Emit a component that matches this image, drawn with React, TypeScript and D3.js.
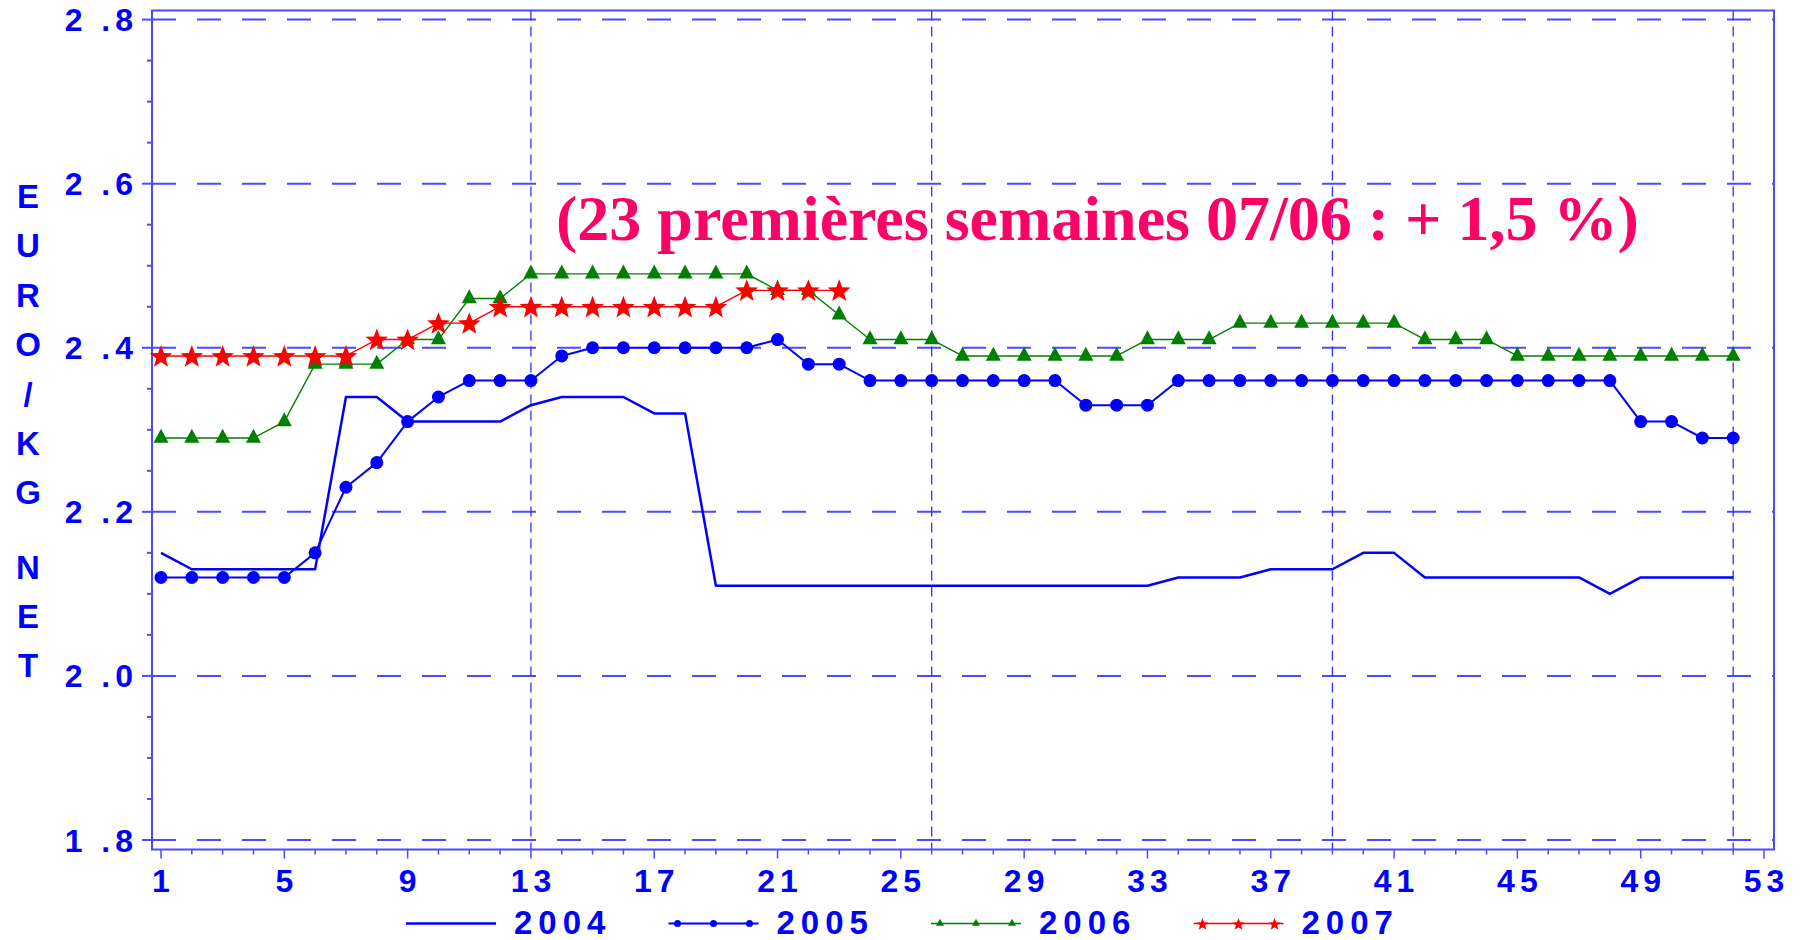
import * as d3 from "d3";
import { useRef, useEffect } from "react";

// weekly price, euro / kg net, week 1 .. 52
const prices2004 = [
  2.15, 2.13, 2.13, 2.13, 2.13, 2.13, 2.34, 2.34, 2.31, 2.31, 2.31, 2.31, 2.33,
  2.34, 2.34, 2.34, 2.32, 2.32, 2.11, 2.11, 2.11, 2.11, 2.11, 2.11, 2.11, 2.11,
  2.11, 2.11, 2.11, 2.11, 2.11, 2.11, 2.11, 2.12, 2.12, 2.12, 2.13, 2.13, 2.13,
  2.15, 2.15, 2.12, 2.12, 2.12, 2.12, 2.12, 2.12, 2.10, 2.12, 2.12, 2.12, 2.12,
];
const prices2005 = [
  2.12, 2.12, 2.12, 2.12, 2.12, 2.15, 2.23, 2.26, 2.31, 2.34, 2.36, 2.36, 2.36,
  2.39, 2.40, 2.40, 2.40, 2.40, 2.40, 2.40, 2.41, 2.38, 2.38, 2.36, 2.36, 2.36,
  2.36, 2.36, 2.36, 2.36, 2.33, 2.33, 2.33, 2.36, 2.36, 2.36, 2.36, 2.36, 2.36,
  2.36, 2.36, 2.36, 2.36, 2.36, 2.36, 2.36, 2.36, 2.36, 2.31, 2.31, 2.29, 2.29,
];
const prices2006 = [
  2.29, 2.29, 2.29, 2.29, 2.31, 2.38, 2.38, 2.38, 2.41, 2.41, 2.46, 2.46, 2.49,
  2.49, 2.49, 2.49, 2.49, 2.49, 2.49, 2.49, 2.47, 2.47, 2.44, 2.41, 2.41, 2.41,
  2.39, 2.39, 2.39, 2.39, 2.39, 2.39, 2.41, 2.41, 2.41, 2.43, 2.43, 2.43, 2.43,
  2.43, 2.43, 2.41, 2.41, 2.41, 2.39, 2.39, 2.39, 2.39, 2.39, 2.39, 2.39, 2.39,
];
// only the first 23 weeks of 2007 are known
const prices2007 = [
  2.39, 2.39, 2.39, 2.39, 2.39, 2.39, 2.39, 2.41, 2.41, 2.43, 2.43, 2.45, 2.45,
  2.45, 2.45, 2.45, 2.45, 2.45, 2.45, 2.47, 2.47, 2.47, 2.47,
];

// axis ticks
const yTickValues = [1.8, 2.0, 2.2, 2.4, 2.6, 2.8];
const xTickValues = [1, 5, 9, 13, 17, 21, 25, 29, 33, 37, 41, 45, 49, 53];
const xGridWeeks = [13, 26, 39, 52];
const yTitle = ["E", "U", "R", "O", "/", "K", "G", " ", "N", "E", "T"];
const note = "(23 premières semaines 07/06 : + 1,5 %)";

const SANS = "'Liberation Sans', Arial, Helvetica, sans-serif";
const SERIF = "'Liberation Serif', 'Times New Roman', serif";

// series styling
const series = [
  { name: "2004", values: prices2004, color: "#0000ff", width: 2.5, marker: "none" },
  { name: "2005", values: prices2005, color: "#0000ff", width: 2, marker: "dot" },
  { name: "2006", values: prices2006, color: "#008000", width: 1.4, marker: "triangle" },
  { name: "2007", values: prices2007, color: "#ff0000", width: 1.4, marker: "star" },
];

// five pointed star path centred on (cx, cy)
function starPath(cx, cy, r) {
  const pts = d3.range(10).map(i => {
    const a = -Math.PI / 2 + (i * Math.PI) / 5;
    const rr = i % 2 === 0 ? r : r * 0.42;
    return [cx + rr * Math.cos(a), cy + rr * Math.sin(a)];
  });
  return "M" + pts.map(p => p.join(",")).join("L") + "Z";
}

// triangle path centred on (cx, cy)
function trianglePath(cx, cy, w, h) {
  return `M${cx},${cy - (h * 2) / 3}L${cx + w / 2},${cy + h / 3}L${cx - w / 2},${cy + h / 3}Z`;
}

function drawMarker(g, type, cx, cy, color, big) {
  if (type === "dot") {
    g.append("circle").attr("cx", cx).attr("cy", cy).attr("r", big ? 6.5 : 3.5).attr("fill", color);
  } else if (type === "triangle") {
    g.append("path").attr("d", big ? trianglePath(cx, cy, 15, 14) : trianglePath(cx, cy, 8, 7)).attr("fill", color);
  } else if (type === "star") {
    g.append("path").attr("d", starPath(cx, cy + 1, big ? 12 : 6.5)).attr("fill", color);
  }
}

export default function App() {
  const svgRef = useRef(null);

  useEffect(() => {
    const svg = d3.select(svgRef.current);
    svg.selectAll("*").remove();

    // plot frame in pixels
    const frame = { left: 152, right: 1774, top: 10.5, bottom: 849.5 };

    // scales: weeks on x, euro/kg on y
    const x = d3.scaleLinear().domain([1, 53]).range([161, 1764]);
    const y = d3.scaleLinear().domain([1.8, 2.8]).range([840, 19.6]);

    const axisBlue = "#0000ff";
    const gridBlue = "#4a4aff";

    // horizontal dashed grid
    svg.append("g").selectAll("line").data(yTickValues).enter().append("line")
      .attr("x1", frame.left).attr("x2", frame.right)
      .attr("y1", d => y(d)).attr("y2", d => y(d))
      .attr("stroke", gridBlue).attr("stroke-width", 2).attr("stroke-dasharray", "24 21");

    // vertical dashed grid
    svg.append("g").selectAll("line").data(xGridWeeks).enter().append("line")
      .attr("x1", d => x(d)).attr("x2", d => x(d))
      .attr("y1", frame.top).attr("y2", frame.bottom)
      .attr("stroke", "#3030ff").attr("stroke-width", 1.3).attr("stroke-dasharray", "10 6");

    // frame
    svg.append("rect")
      .attr("x", frame.left).attr("y", frame.top)
      .attr("width", frame.right - frame.left).attr("height", frame.bottom - frame.top)
      .attr("fill", "none").attr("stroke", gridBlue).attr("stroke-width", 2);

    // y ticks: major every 0.2, minor every 0.05
    svg.append("g").selectAll("line").data(y.ticks(20)).enter().append("line")
      .attr("x1", d => (yTickValues.some(v => Math.abs(v - d) < 1e-6) ? frame.left - 10 : frame.left - 5))
      .attr("x2", frame.left)
      .attr("y1", d => y(d)).attr("y2", d => y(d))
      .attr("stroke", gridBlue).attr("stroke-width", 2);

    // x ticks every week
    svg.append("g").selectAll("line").data(d3.range(1, 54)).enter().append("line")
      .attr("x1", d => x(d)).attr("x2", d => x(d))
      .attr("y1", frame.bottom)
      .attr("y2", d => (xTickValues.includes(d) ? frame.bottom + 9 : frame.bottom + 5))
      .attr("stroke", gridBlue).attr("stroke-width", 1.5);

    // y tick labels, e.g. "2 .4"
    svg.append("g").selectAll("text").data(yTickValues).enter().append("text")
      .attr("x", 138).attr("y", d => y(d) + 11.5)
      .attr("text-anchor", "end")
      .style("font-family", SANS).style("font-weight", "700").style("font-size", "32px")
      .style("letter-spacing", "5px").attr("fill", axisBlue)
      .text(d => d.toFixed(1).replace(".", " ."));

    // x tick labels
    svg.append("g").selectAll("text").data(xTickValues).enter().append("text")
      .attr("x", d => x(d) + 2.5).attr("y", 892)
      .attr("text-anchor", "middle")
      .style("font-family", SANS).style("font-weight", "700").style("font-size", "32px")
      .style("letter-spacing", "5px").attr("fill", axisBlue)
      .text(d => d);

    // vertical y title, one letter per line
    const titleStep = 49.4;
    let ty = 196;
    yTitle.forEach(ch => {
      if (ch === " ") { ty += titleStep * 0.5; return; }
      svg.append("text").attr("x", 28).attr("y", ty + 12)
        .attr("text-anchor", "middle")
        .style("font-family", SANS).style("font-weight", "700").style("font-size", "33px")
        .attr("fill", axisBlue).text(ch);
      ty += titleStep;
    });

    // series lines and markers
    const line = d3.line().x((d, i) => x(i + 1)).y(d => y(d));
    series.forEach(s => {
      const g = svg.append("g");
      g.append("path").attr("d", line(s.values)).attr("fill", "none")
        .attr("stroke", s.color).attr("stroke-width", s.width).attr("stroke-linejoin", "round");
      s.values.forEach((v, i) => drawMarker(g, s.marker, x(i + 1), y(v), s.color, true));
    });

    // annotation
    svg.append("text").attr("x", 556).attr("y", 240)
      .style("font-family", SERIF).style("font-weight", "700").style("font-size", "64px")
      .attr("fill", "#ff0066").text(note);

    // legend
    const legendY = 923.5;
    series.forEach((s, i) => {
      const lx = 406 + i * 262.5;
      const g = svg.append("g");
      g.append("line").attr("x1", lx).attr("x2", lx + 90).attr("y1", legendY).attr("y2", legendY)
        .attr("stroke", s.color).attr("stroke-width", s.width);
      [lx + 9, lx + 45, lx + 81].forEach(mx => drawMarker(g, s.marker, mx, legendY, s.color, false));
      g.append("text").attr("x", lx + 108).attr("y", 934)
        .style("font-family", SANS).style("font-weight", "700").style("font-size", "33px")
        .style("letter-spacing", "6px").attr("fill", axisBlue).text(s.name);
    });
  }, []);

  return (
    <svg ref={svgRef} width={1809} height={940}
      style={{ position: "absolute", left: 0, top: 0, display: "block", background: "#ffffff" }} />
  );
}
